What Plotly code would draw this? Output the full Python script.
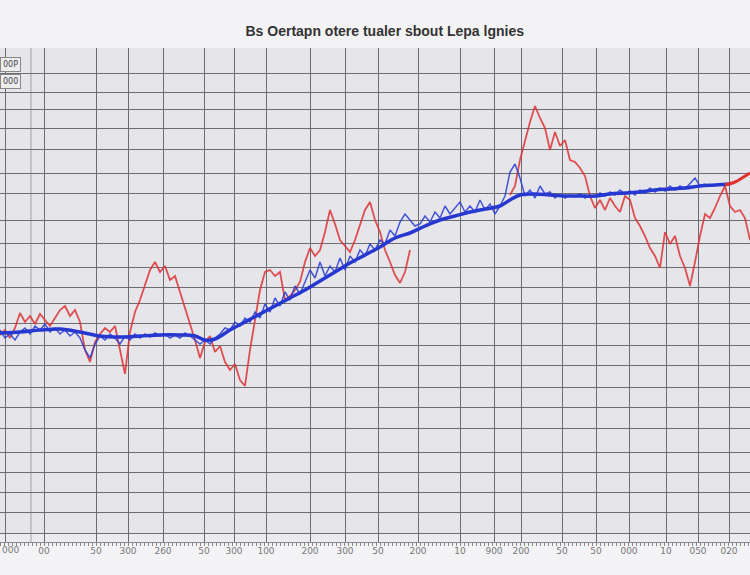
import plotly.graph_objects as go

# ---------------- data ----------------
x_red_a = list(range(0, 415, 5))
red_a = [207, 212, 204, 214, 229, 220, 226, 218, 228, 222, 216, 224, 232, 236, 226, 232, 220, 192, 180, 200,
         208, 214, 210, 216, 192, 168, 210, 230, 242, 258, 272, 280, 270, 276, 262, 266, 250, 236, 220, 202,
         184, 200, 206, 190, 196, 180, 172, 178, 162, 156, 192, 222, 252, 270, 272, 266, 270, 242, 246, 252,
         260, 280, 294, 286, 292, 310, 332, 318, 302, 296, 290, 302, 316, 332, 340, 322, 310, 292, 280, 267,
         259, 270, 292]

x_red_b = list(range(510, 755, 5))
red_b = [347, 356, 382, 402, 420, 436, 424, 414, 392, 410, 396, 402, 382, 380, 374, 366, 346, 334, 342, 332,
         344, 336, 330, 346, 342, 324, 316, 306, 294, 286, 274, 310, 298, 306, 286, 274, 256, 280, 306, 328,
         324, 334, 346, 356, 336, 330, 332, 324, 302]

x_blue_noisy = list(range(0, 710, 5))
blue_noisy = [212, 204, 208, 202, 210, 214, 208, 216, 212, 218, 210, 214, 208, 212, 206, 210, 204, 192, 184, 198,
              206, 202, 208, 204, 198, 206, 202, 208, 204, 208, 205, 209, 206, 208, 204, 207, 204, 209, 206, 202,
              198, 202, 198, 204, 208, 214, 212, 220, 216, 224, 220, 230, 224, 238, 230, 244, 236, 250, 242, 256,
              248, 260, 272, 264, 280, 266, 276, 270, 284, 272, 286, 280, 292, 286, 298, 292, 302, 298, 312, 306,
              320, 328, 322, 316, 318, 326, 320, 330, 324, 336, 328, 334, 340, 330, 336, 330, 342, 332, 338, 328,
              336, 346, 370, 378, 364, 346, 352, 344, 356, 348, 350, 344, 348, 344, 347, 345, 348, 344, 347, 345,
              349, 346, 350, 347, 352, 348, 351, 347, 352, 349, 354, 350, 354, 351, 356, 352, 356, 353, 358, 364,
              356, 358]

x_trend = [0, 20, 40, 60, 80, 100, 120, 140, 160, 180, 195, 205, 215, 230, 245, 260, 275, 290, 305, 320,
           335, 350, 365, 380, 395, 410, 425, 440, 455, 470, 485, 500, 510, 520, 535, 550, 565, 580, 595, 610,
           625, 640, 655, 670, 685, 700, 715, 730]
trend = [209, 210, 212, 213, 210, 206, 205, 206, 207, 207, 206, 202, 203, 212, 220, 228, 236, 244, 252, 261,
         270, 279, 287, 295, 304, 309, 316, 322, 326, 330, 333, 336, 342, 347, 348, 347, 346, 346, 346, 348,
         349, 350, 352, 353, 354, 356, 357, 358]

x_red_end = [725, 735, 742, 750]
red_end = [357, 360, 364, 369]

grid_y = [469, 450, 433, 414, 393, 369, 349, 322, 299, 275, 255, 239, 219, 197, 177, 155, 135, 114, 90, 70,
          50, 30, 9]
tick_x = [5, 44, 96, 128, 163, 204, 234, 266, 310, 345, 378, 418, 460, 494, 521, 562, 596, 629, 666,
          698, 729]
tick_x_labels = ["000", "00", "50", "300", "260", "50", "300", "100", "200", "300", "50", "200", "10",
                 "900", "200", "50", "50", "000", "10", "050", "020"]
light_grid_x = [31]

title_text = "Bs Oertapn otere tualer sbout Lepa lgnies"
legend_labels = ["00P", "000"]

# ---------------- figure ----------------
fig = go.Figure()

# lighter band just above the x axis
fig.add_shape(type="rect", xref="paper", yref="y", x0=0, x1=1, y0=0, y1=grid_y[-1],
              fillcolor="#ececf0", line_width=0, layer="below")
for gx in light_grid_x:
    fig.add_shape(type="line", xref="x", yref="paper", x0=gx, x1=gx, y0=0, y1=1,
                  line=dict(color="#a0a0a6", width=1), layer="below")

fig.add_trace(go.Scatter(x=x_red_a, y=red_a, mode="lines",
                         line=dict(color="rgba(222,52,52,0.85)", width=1.8), showlegend=False))
fig.add_trace(go.Scatter(x=x_red_b, y=red_b, mode="lines",
                         line=dict(color="rgba(222,52,52,0.85)", width=1.8), showlegend=False))
fig.add_trace(go.Scatter(x=x_blue_noisy, y=blue_noisy, mode="lines",
                         line=dict(color="rgba(40,60,210,0.85)", width=1.5), showlegend=False))
fig.add_trace(go.Scatter(x=x_trend, y=trend, mode="lines", line_shape="spline",
                         line=dict(color="#2638d0", width=3.5), showlegend=False))
fig.add_trace(go.Scatter(x=x_red_end, y=red_end, mode="lines", line_shape="spline",
                         line=dict(color="#e0302e", width=3), showlegend=False))

for i, lab in enumerate(legend_labels):
    fig.add_annotation(text=lab, xref="paper", yref="paper", x=0, y=0.982 - i * 0.035,
                       xanchor="left", yanchor="top", showarrow=False,
                       font=dict(size=8, color="#444", family="DejaVu Sans"),
                       bgcolor="#ededf0", bordercolor="#888", borderwidth=1, borderpad=2)

# first tick label would be clipped by the axis, so draw it as text
fig.add_annotation(text=tick_x_labels[0], xref="paper", yref="paper", x=0, y=0, xanchor="left",
                   yanchor="top", yshift=-1, showarrow=False,
                   font=dict(size=9, color="#777", family="DejaVu Sans"))

fig.update_layout(
    width=750, height=575,
    margin=dict(l=0, r=0, t=48, b=33),
    paper_bgcolor="#f3f3f6",
    plot_bgcolor="#e5e5ea",
    title=dict(text=f"<b>{title_text}</b>", x=0.513, xanchor="center", y=0.946, yanchor="middle",
               font=dict(size=14, color="#333", family="Liberation Sans")),
    showlegend=False,
)
fig.update_xaxes(range=[0, 750], tickmode="array", tickvals=tick_x, ticktext=[""] + tick_x_labels[1:],
                 showgrid=True, gridcolor="#6c6c72", gridwidth=1.3, zeroline=False,
                 showline=True, linecolor="#8a8a90", linewidth=1,
                 ticks="", tickfont=dict(size=9, color="#777", family="DejaVu Sans"),
                 minor=dict(ticks="outside", ticklen=3, tickcolor="#888", tickmode="linear",
                            tick0=0, dtick=4, showgrid=False))
fig.update_yaxes(range=[0, 494], tickmode="array", tickvals=grid_y, showticklabels=False,
                 showgrid=True, gridcolor="#6c6c72", gridwidth=1.3, zeroline=False,
                 showline=True, mirror=True, linecolor="#8a8a90", ticks="")

fig.write_html("out.html")
